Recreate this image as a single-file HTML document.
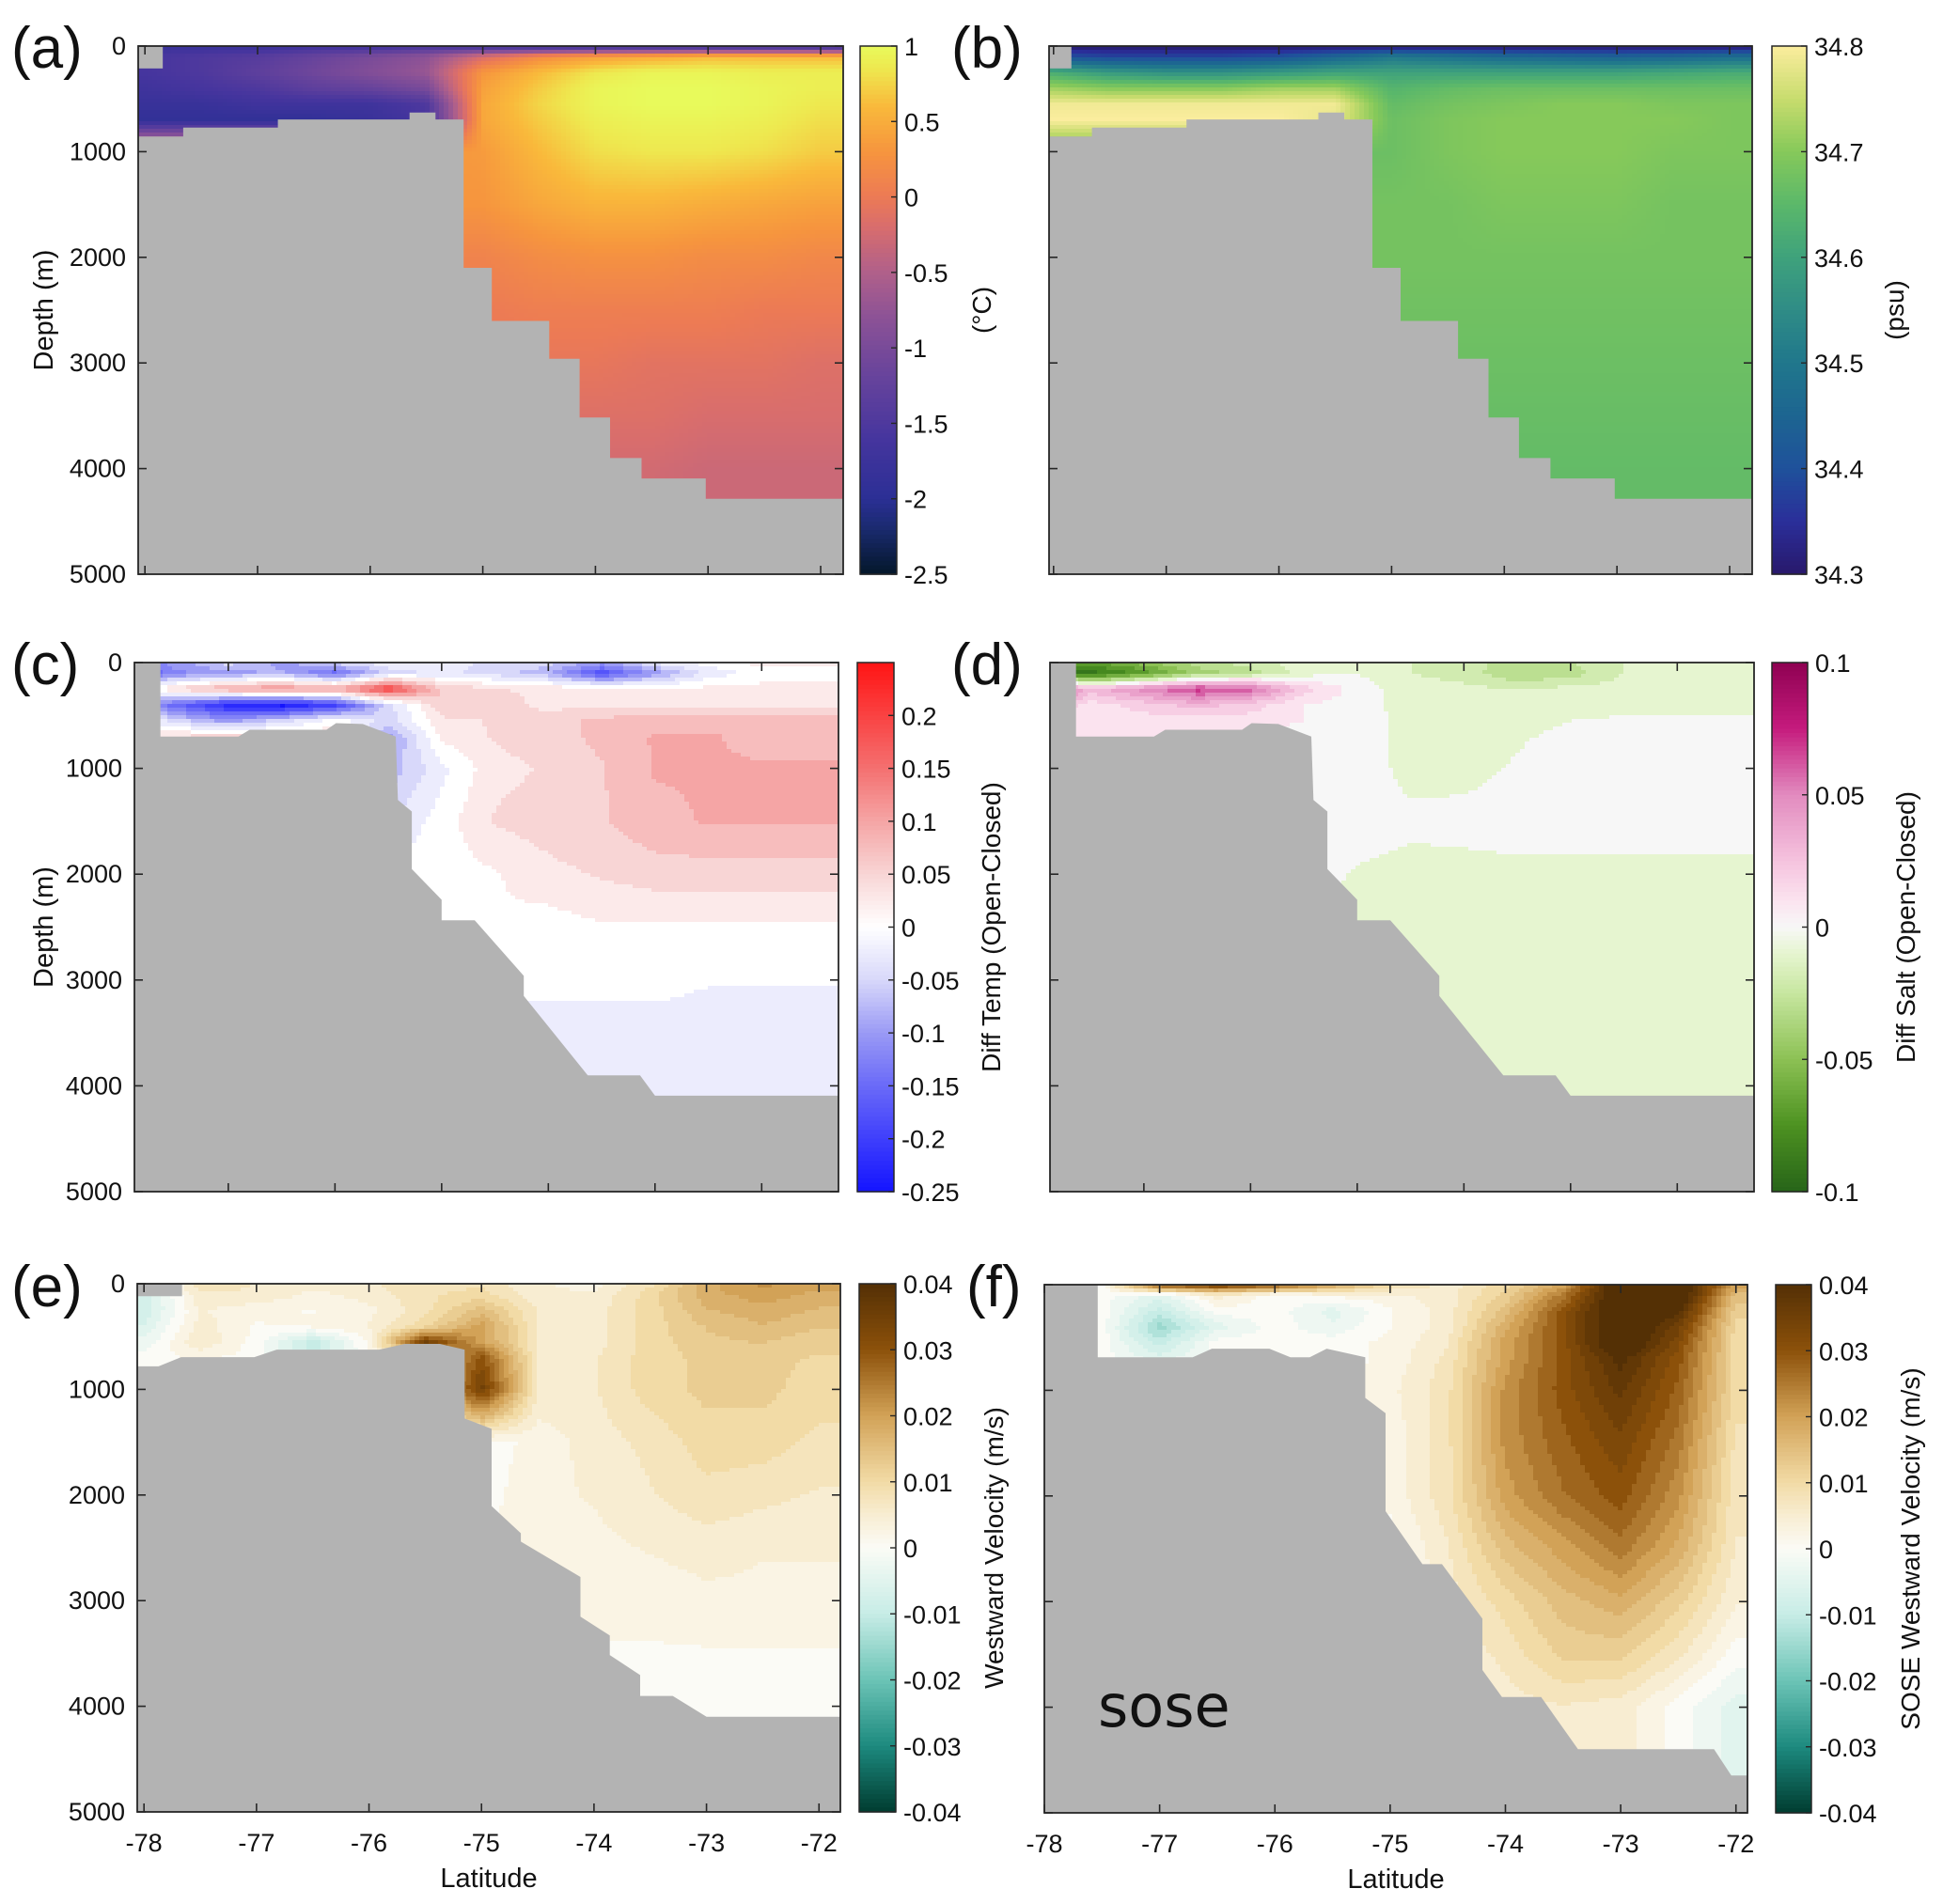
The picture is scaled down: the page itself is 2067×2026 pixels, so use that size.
<!DOCTYPE html>
<html><head><meta charset="utf-8"><title>Ocean sections</title>
<style>
html,body{margin:0;padding:0;background:#fff;}
svg{display:block;font-family:"Liberation Sans",Arial,sans-serif;}
</style></head>
<body>
<svg id="fig" width="2067" height="2026" xmlns="http://www.w3.org/2000/svg"></svg>
<script>
// ---------------- DATA ----------------
const latNodes = [-78,-77.5,-77,-76.5,-76,-75.5,-75,-74.5,-74,-73.5,-73,-72.5,-72];
const depthNodes = [0,100,250,400,550,700,1000,1500,2000,2500,3000,3500,4000,5000];

const tempGrid = [
[-1.8,-1.8,-1.8,-1.7,-1.7,-1.6,-1.7,-1.8,-1.8,-1.8,-1.8,-1.8,-1.8],
[-1.6,-1.5,-1.4,-1.2,-1.0,-0.8,-0.2,0.2,0.4,0.5,0.6,0.6,0.6],
[-1.6,-1.5,-1.3,-1.1,-0.9,-0.7,0.3,0.6,0.85,0.95,0.95,0.9,0.9],
[-1.7,-1.6,-1.5,-1.3,-1.2,-1.0,0.4,0.7,0.95,1.0,1.0,0.95,0.9],
[-1.8,-1.8,-1.7,-1.7,-1.7,-1.5,0.45,0.75,0.95,1.0,1.0,0.95,0.85],
[-1.9,-1.9,-1.9,-1.9,-1.8,-1.6,0.45,0.7,0.9,0.95,0.95,0.9,0.8],
[0.3,0.3,0.3,0.3,0.3,0.3,0.35,0.6,0.8,0.85,0.85,0.8,0.7],
[0.3,0.3,0.3,0.3,0.3,0.3,0.3,0.45,0.55,0.55,0.5,0.45,0.4],
[0.1,0.1,0.1,0.1,0.1,0.1,0.1,0.2,0.25,0.25,0.2,0.2,0.15],
[0,0,0,0,0,0,0,0.05,0.05,0.05,0.05,0,0],
[-0.05,-0.05,-0.05,-0.05,-0.05,-0.05,-0.05,-0.05,-0.05,-0.1,-0.1,-0.1,-0.15],
[-0.15,-0.15,-0.15,-0.15,-0.15,-0.15,-0.15,-0.15,-0.15,-0.15,-0.2,-0.2,-0.2],
[-0.25,-0.25,-0.25,-0.25,-0.25,-0.25,-0.25,-0.25,-0.25,-0.25,-0.3,-0.3,-0.3],
[-0.3,-0.3,-0.3,-0.3,-0.3,-0.3,-0.3,-0.3,-0.3,-0.3,-0.3,-0.3,-0.3]];

const saltGrid = [
[34.3,34.3,34.3,34.3,34.3,34.3,34.3,34.3,34.3,34.3,34.3,34.3,34.3],
[34.40,34.38,34.38,34.38,34.40,34.45,34.50,34.48,34.46,34.45,34.44,34.45,34.47],
[34.62,34.58,34.56,34.56,34.58,34.60,34.60,34.60,34.60,34.60,34.60,34.61,34.62],
[34.72,34.70,34.70,34.70,34.72,34.72,34.64,34.66,34.67,34.67,34.67,34.67,34.67],
[34.79,34.79,34.79,34.79,34.79,34.79,34.66,34.68,34.69,34.70,34.70,34.69,34.69],
[34.80,34.80,34.80,34.80,34.80,34.78,34.67,34.69,34.70,34.70,34.70,34.70,34.69],
[34.67,34.67,34.67,34.67,34.67,34.67,34.67,34.69,34.70,34.70,34.70,34.69,34.69],
[34.68,34.68,34.68,34.68,34.68,34.68,34.68,34.68,34.69,34.69,34.69,34.68,34.68],
[34.68,34.68,34.68,34.68,34.68,34.68,34.68,34.68,34.68,34.68,34.68,34.68,34.68],
[34.675,34.675,34.675,34.675,34.675,34.675,34.675,34.675,34.675,34.675,34.675,34.675,34.675],
[34.67,34.67,34.67,34.67,34.67,34.67,34.67,34.67,34.67,34.67,34.67,34.67,34.67],
[34.665,34.665,34.665,34.665,34.665,34.665,34.665,34.665,34.665,34.665,34.665,34.665,34.665],
[34.66,34.66,34.66,34.66,34.66,34.66,34.66,34.66,34.66,34.66,34.66,34.66,34.66],
[34.66,34.66,34.66,34.66,34.66,34.66,34.66,34.66,34.66,34.66,34.66,34.66,34.66]];

const diffTempGrid = [
[-0.15,-0.1,-0.05,-0.1,-0.05,-0.02,-0.02,-0.05,-0.05,-0.1,-0.03,0.0,0.02],
[-0.2,-0.12,-0.1,-0.08,-0.15,-0.05,-0.03,-0.05,-0.08,-0.18,-0.1,-0.03,0],
[-0.05,0.05,0.1,0.12,0.1,0.2,0.06,0.04,0.03,0.03,0.02,0.02,0.02],
[-0.1,-0.15,-0.23,-0.25,-0.2,-0.05,0.06,0.05,0.03,0.03,0.03,0.03,0.03],
[0.02,-0.05,-0.1,-0.05,0.0,-0.05,0.03,0.04,0.05,0.07,0.08,0.08,0.08],
[0.04,0.04,0.05,0.04,0.04,-0.1,0.02,0.04,0.05,0.07,0.09,0.09,0.08],
[0,0,0,0,0,-0.08,-0.02,0.03,0.04,0.06,0.09,0.09,0.09],
[0,0,0,0,0,-0.04,0.0,0.04,0.05,0.06,0.08,0.09,0.09],
[0,0,0,0,0,0,0,0.01,0.03,0.04,0.05,0.05,0.05],
[0,0,0,0,0,0,0,0.01,0.0,0.01,0.01,0.01,0.01],
[0,0,0,0,0,0,0,0,0,0,0,-0.01,-0.01],
[-0.03,-0.03,-0.03,-0.03,-0.03,-0.03,-0.03,-0.03,-0.03,-0.03,-0.03,-0.03,-0.03],
[-0.03,-0.03,-0.03,-0.03,-0.03,-0.03,-0.03,-0.03,-0.03,-0.03,-0.03,-0.03,-0.03],
[-0.03,-0.03,-0.03,-0.03,-0.03,-0.03,-0.03,-0.03,-0.03,-0.03,-0.03,-0.03,-0.03]];

const diffSaltGrid = [
[-0.07,-0.07,-0.05,-0.03,-0.02,-0.01,-0.01,-0.015,-0.02,-0.03,-0.025,-0.015,-0.01],
[-0.08,-0.09,-0.07,-0.04,-0.03,-0.01,-0.005,-0.015,-0.02,-0.035,-0.03,-0.015,-0.01],
[0.09,0.03,0.05,0.07,0.06,0.02,0.0,-0.01,-0.012,-0.015,-0.012,-0.01,-0.01],
[0.03,0.01,0.02,0.03,0.02,0.005,0.0,-0.01,-0.01,-0.01,-0.01,-0.01,-0.01],
[0.01,0.01,0.01,0.01,0.01,0.005,0.0,-0.008,-0.01,-0.008,-0.005,-0.003,-0.002],
[0.005,0.005,0.005,0.005,0.005,0,0,-0.008,-0.01,-0.006,-0.003,0,0],
[0,0,0,0,0,0,0,-0.008,-0.008,-0.004,0,0,0],
[0,0,0,0,0,0,0,-0.003,-0.002,0,0,0,0],
[0,0,0,0,0,0,-0.006,-0.008,-0.008,-0.008,-0.008,-0.008,-0.008],
[-0.008,-0.008,-0.008,-0.008,-0.008,-0.008,-0.008,-0.008,-0.008,-0.008,-0.008,-0.008,-0.008],
[-0.008,-0.008,-0.008,-0.008,-0.008,-0.008,-0.008,-0.008,-0.008,-0.008,-0.008,-0.008,-0.008],
[-0.008,-0.008,-0.008,-0.008,-0.008,-0.008,-0.008,-0.008,-0.008,-0.008,-0.008,-0.008,-0.008],
[-0.008,-0.008,-0.008,-0.008,-0.008,-0.008,-0.008,-0.008,-0.008,-0.008,-0.01,-0.012,-0.015],
[-0.008,-0.008,-0.008,-0.008,-0.008,-0.008,-0.008,-0.008,-0.008,-0.008,-0.01,-0.012,-0.015]];

const velGrid = [
[-0.004,0.008,0.006,0.005,0.006,0.008,0.008,0.004,0.003,0.008,0.018,0.022,0.02],
[-0.008,0.006,0.006,0.003,0.005,0.008,0.01,0.004,0.004,0.01,0.018,0.02,0.018],
[-0.008,0.004,0.002,0.001,0.003,0.008,0.015,0.006,0.005,0.01,0.016,0.018,0.016],
[-0.006,0.005,0.001,0.002,0.004,0.01,0.02,0.006,0.005,0.01,0.014,0.016,0.014],
[-0.003,0.006,0.0,-0.01,0.002,0.035,0.02,0.006,0.005,0.01,0.013,0.014,0.012],
[0,0.002,0,-0.01,0,0.01,0.03,0.006,0.006,0.01,0.012,0.012,0.011],
[0,0,0,0,0,0.01,0.035,0.006,0.006,0.01,0.012,0.012,0.01],
[0,0,0,0,0,0,0,0.002,0.005,0.007,0.01,0.01,0.008],
[0,0,0,0,0,0,0,0.003,0.004,0.006,0.008,0.007,0.006],
[0.002,0.002,0.002,0.002,0.002,0.002,0.002,0.002,0.003,0.004,0.005,0.004,0.004],
[0.002,0.002,0.002,0.002,0.002,0.002,0.002,0.002,0.002,0.002,0.003,0.003,0.003],
[0.001,0.001,0.001,0.001,0.001,0.001,0.001,0.001,0.001,0.001,0.001,0.001,0.001],
[0.001,0.001,0.001,0.001,0.001,0.001,0.001,0.001,0.001,0.001,0.001,0,-0.001],
[0.001,0.001,0.001,0.001,0.001,0.001,0.001,0.001,0.001,0.001,0.001,0,-0.001]];

const soseGrid = [
[0,0,0.03,0.035,0.03,0.02,0.01,0.005,0.01,0.02,0.045,0.045,0.02],
[0,0,-0.005,0.005,0.0,0.002,0.003,0.005,0.012,0.025,0.045,0.045,0.015],
[0,0,-0.01,0.0,0.0,-0.005,0.001,0.005,0.015,0.03,0.045,0.04,0.012],
[0,0,-0.015,-0.005,0.0,-0.003,0.001,0.005,0.018,0.03,0.045,0.035,0.01],
[0,0,-0.01,0,0,0,0.002,0.006,0.02,0.03,0.045,0.032,0.01],
[0,0,-0.005,0,0,0,0.002,0.007,0.02,0.03,0.04,0.03,0.01],
[0,0,0,0,0,0,0.003,0.008,0.022,0.03,0.037,0.028,0.01],
[0,0,0,0,0,0,0.002,0.008,0.022,0.028,0.033,0.025,0.008],
[0,0,0,0,0,0,0.002,0.008,0.02,0.026,0.03,0.022,0.007],
[0,0,0,0,0,0,0,0.006,0.015,0.02,0.025,0.018,0.006],
[0,0,0,0,0,0,0,0.005,0.01,0.015,0.018,0.012,0.004],
[0,0,0,0,0,0,0,0.004,0.007,0.012,0.012,0.007,0.0],
[0,0,0,0,0,0,0,0.003,0.005,0.006,0.005,0.0,-0.005],
[0,0,0,0,0,0,0,0.003,0.005,0.006,0.005,0.0,-0.005]];

const stepLatEdges = [-78.06,-77.66,-76.82,-75.65,-75.42,-75.17,-74.92,-74.41,-74.14,-73.87,-73.59,-73.02,-71.7];
const stepDepths = [857,772,695,629,695,2100,2602,2961,3517,3900,4093,4286];
const diffBathyLat = [-77.645,-76.905,-76.80,-76.08,-75.99,-75.74,-75.43,-75.41,-75.28,-75.28,-75.0,-75.0,-74.69,-74.23,-74.23,-73.63,-73.14,-73.0,-71.2];
const diffBathyDepth = [700,700,635,635,573,581,700,1299,1408,1952,2242,2435,2435,2961,3150,3901,3901,4093,4093];
const velBathyLat = [-78.1,-77.87,-77.67,-77.02,-76.82,-75.91,-75.68,-75.37,-75.15,-75.15,-74.91,-74.91,-74.65,-74.65,-74.12,-74.12,-73.86,-73.86,-73.59,-73.59,-73.30,-73.0,-71.7];
const velBathyDepth = [782,782,695,695,624,624,569,569,624,1276,1374,2105,2362,2441,2776,3152,3329,3515,3705,3902,3902,4100,4100];
const soseBathyLat = [-77.545,-76.713,-76.547,-76.048,-75.865,-75.698,-75.55,-75.216,-75.216,-75.04,-75.04,-74.72,-74.55,-74.2,-74.2,-74.03,-73.69,-73.37,-72.19,-72.04,-71.8];
const soseBathyDepth = [688,688,606,606,688,688,606,688,1072,1216,2144,2646,2646,3162,3648,3904,3904,4398,4398,4646,4646];

const depthTicks = [0,1000,2000,3000,4000,5000];
const depthTickLabels = ["0","1000","2000","3000","4000","5000"];
const latTicks = [-78,-77,-76,-75,-74,-73,-72];
const latTickLabels = ["-78","-77","-76","-75","-74","-73","-72"];
const cbTempTicks = [1,0.5,0,-0.5,-1,-1.5,-2,-2.5];
const cbTempLabels = ["1","0.5","0","-0.5","-1","-1.5","-2","-2.5"];
const cbSaltTicks = [34.8,34.7,34.6,34.5,34.4,34.3];
const cbSaltLabels = ["34.8","34.7","34.6","34.5","34.4","34.3"];
const cbDTTicks = [0.2,0.15,0.1,0.05,0,-0.05,-0.1,-0.15,-0.2,-0.25];
const cbDTLabels = ["0.2","0.15","0.1","0.05","0","-0.05","-0.1","-0.15","-0.2","-0.25"];
const cbDSTicks = [0.1,0.05,0,-0.05,-0.1];
const cbDSLabels = ["0.1","0.05","0","-0.05","-0.1"];
const cbVelTicks = [0.04,0.03,0.02,0.01,0,-0.01,-0.02,-0.03,-0.04];
const cbVelLabels = ["0.04","0.03","0.02","0.01","0","-0.01","-0.02","-0.03","-0.04"];

// ---------------- COLORMAPS ----------------
const cmThermal = [[-2.5,"#04172a"],[-2.2,"#1a2a6e"],[-2.0,"#2b2f95"],[-1.6,"#46359e"],[-1.2,"#66439c"],[-0.8,"#8c5296"],[-0.5,"#b0608a"],[-0.2,"#d86d6d"],[0,"#ec7a55"],[0.3,"#f6953e"],[0.6,"#f9b93b"],[0.85,"#eee84f"],[1,"#e8fa5b"]];
const cmHaline = [[34.3,"#29186b"],[34.35,"#2a2f9a"],[34.4,"#1f519b"],[34.45,"#1d6591"],[34.5,"#20778c"],[34.55,"#2f8c86"],[34.6,"#3fa27c"],[34.65,"#5bb86a"],[34.7,"#86c95a"],[34.75,"#c8dc6e"],[34.8,"#fbed9e"]];
const cmBWR = [[-0.25,"#1414ff"],[-0.15,"#6a6af8"],[-0.1,"#9a9af5"],[-0.05,"#d8d8fa"],[0,"#ffffff"],[0.05,"#f8d5d5"],[0.1,"#f5a5a5"],[0.15,"#f47070"],[0.25,"#ff1414"]];
const cmPiYG = [[-0.1,"#276419"],[-0.075,"#4d9221"],[-0.05,"#8cc154"],[-0.025,"#c7e6a0"],[-0.01,"#e6f5d0"],[0,"#f7f7f7"],[0.01,"#fbe3ef"],[0.025,"#f5c3de"],[0.05,"#e28bbf"],[0.075,"#c51b7d"],[0.1,"#8e0152"]];
const cmBrBG = [[-0.04,"#003c30"],[-0.03,"#1d8a7f"],[-0.02,"#6cc4b6"],[-0.01,"#c7ece6"],[0,"#fbfbf6"],[0.005,"#f8edd2"],[0.01,"#f2dba6"],[0.02,"#d2a257"],[0.03,"#8c510a"],[0.04,"#543005"]];

function hex2rgb(h){return [parseInt(h.substr(1,2),16),parseInt(h.substr(3,2),16),parseInt(h.substr(5,2),16)];}
function cmap(stops,v){
  if(v<=stops[0][0]) return stops[0][1];
  if(v>=stops[stops.length-1][0]) return stops[stops.length-1][1];
  for(let i=0;i<stops.length-1;i++){
    const a=stops[i],b=stops[i+1];
    if(v>=a[0]&&v<=b[0]){
      const t=(v-a[0])/(b[0]-a[0]);const ca=hex2rgb(a[1]),cb=hex2rgb(b[1]);
      return "rgb("+ca.map((c,k)=>Math.round(c+(cb[k]-c)*t)).join(",")+")";
    }
  }
  return stops[0][1];
}
function locate(nodes,v){
  if(v<=nodes[0]) return [0,0];
  const n=nodes.length;
  if(v>=nodes[n-1]) return [n-2,1];
  for(let i=0;i<n-1;i++){ if(v>=nodes[i]&&v<=nodes[i+1]) return [i,(v-nodes[i])/(nodes[i+1]-nodes[i])]; }
  return [0,0];
}
function sample(grid,lat,dep){
  const [i,t]=locate(latNodes,lat);const [j,u]=locate(depthNodes,dep);
  const a=grid[j][i],b=grid[j][i+1],c=grid[j+1][i],d=grid[j+1][i+1];
  return a*(1-t)*(1-u)+b*t*(1-u)+c*(1-t)*u+d*t*u;
}

// ---------------- DRAW ----------------
const NS="http://www.w3.org/2000/svg";
const svg=document.getElementById('fig');
const defs=document.createElementNS(NS,'defs');svg.appendChild(defs);
function el(tag,attrs,parent){const e=document.createElementNS(NS,tag);for(const k in attrs)e.setAttribute(k,attrs[k]);(parent||svg).appendChild(e);return e;}
function txt(s,attrs,parent){const e=el('text',attrs,parent);e.textContent=s;return e;}
let clipId=0;

function drawPanel(p){
  const g=el('g',{});
  
  
  const xs=lat=>p.x0+(lat-p.lat0)/(p.lat1-p.lat0)*(p.x1-p.x0);
  const ys=d=>p.y0+d/5000*(p.y1-p.y0);
  const latOf=x=>p.lat0+(x-p.x0)/(p.x1-p.x0)*(p.lat1-p.lat0);
  const depOf=y=>(y-p.y0)/(p.y1-p.y0)*5000;
  const cid='clip'+(clipId++);
  const cp=el('clipPath',{id:cid},defs);
  el('rect',{x:p.x0,y:p.y0,width:p.x1-p.x0,height:p.y1-p.y0},cp);
  const plot=el('g',{'clip-path':'url(#'+cid+')'},g);
  // field
  const fg=el('g',{'shape-rendering':'crispEdges'},plot);
  
  
  const dx=5,dy=4;
  for(let y=p.y0;y<p.y1;y+=dy){
    let runStart=p.x0,runCol=null;
    for(let x=p.x0;x<p.x1;x+=dx){
      let v=sample(p.grid,latOf(x+dx/2),depOf(y+dy/2));
      if(p.step) v=Math.round(v/p.step)*p.step;
      const col=cmap(p.cm,v);
      if(col!==runCol){
        if(runCol!==null) el('rect',{x:runStart,y:y,width:x-runStart+0.6,height:dy+0.6,fill:runCol},fg);
        runStart=x;runCol=col;
      }
    }
    if(runCol!==null) el('rect',{x:runStart,y:y,width:p.x1-runStart+1,height:dy+0.6,fill:runCol},fg);
  }
  // bathymetry
  const bg=el('g',{},plot);
  
  
  let pts=[];
  if(p.stepEdges){
    pts.push([xs(p.stepEdges[0]),ys(5000)]);
    for(let i=0;i<p.stepDepths.length;i++){pts.push([xs(p.stepEdges[i]),ys(p.stepDepths[i])]);pts.push([xs(p.stepEdges[i+1]),ys(p.stepDepths[i])]);}
    pts.push([xs(p.stepEdges[p.stepEdges.length-1]),ys(5000)]);
  } else {
    pts.push([xs(p.bLat[0]),ys(5000)]);
    for(let i=0;i<p.bLat.length;i++) pts.push([xs(p.bLat[i]),ys(p.bDep[i])]);
    pts.push([xs(p.bLat[p.bLat.length-1]),ys(5000)]);
  }
  el('polygon',{points:pts.map(q=>q.map(v=>v.toFixed(1)).join(',')).join(' '),fill:'#b3b3b3'},bg);
  if(p.leftBlock){
    const lb=p.leftBlock;
    el('rect',{x:p.x0-2,y:ys(lb[1])-2,width:xs(lb[0])-p.x0+3,height:ys(lb[2])-ys(lb[1])+2,fill:'#b3b3b3'},bg);
  }
  // frame & ticks
  const ax=el('g',{},g);
  
  
  el('rect',{x:p.x0,y:p.y0,width:p.x1-p.x0,height:p.y1-p.y0,fill:'none',stroke:'#262626','stroke-width':1.8},ax);
  const TL=9;
  depthTicks.forEach((d,i)=>{
    const y=ys(d);
    el('line',{x1:p.x0,y1:y,x2:p.x0+TL,y2:y,stroke:'#262626','stroke-width':1.6},ax);
    el('line',{x1:p.x1,y1:y,x2:p.x1-TL,y2:y,stroke:'#262626','stroke-width':1.6},ax);
    if(p.yLabels){
      const t=txt(depthTickLabels[i],{x:p.x0-13,y:y+9,'font-size':27,'text-anchor':'end',fill:'#111'},ax);
      
      
    }
  });
  latTicks.forEach((lat,i)=>{
    const x=xs(lat);
    if(x<p.x0-1||x>p.x1+1) return;
    el('line',{x1:x,y1:p.y1,x2:x,y2:p.y1-TL,stroke:'#262626','stroke-width':1.6},ax);
    el('line',{x1:x,y1:p.y0,x2:x,y2:p.y0+TL,stroke:'#262626','stroke-width':1.6},ax);
    if(p.xLabels){
      const t=txt(latTickLabels[i],{x:x,y:p.y1+42,'font-size':27,'text-anchor':'middle',fill:'#111'},ax);
      
      
    }
  });
  if(p.xLabels){
    const t=txt('Latitude',{x:(p.x0+p.x1)/2,y:p.y1+80,'font-size':29,'text-anchor':'middle',fill:'#111'},ax);
    
    
  }
  if(p.yTitle){
    const cy=(p.y0+p.y1)/2;
    const t=txt('Depth (m)',{x:56,y:cy,'font-size':29,'text-anchor':'middle',fill:'#111',transform:'rotate(-90 56 '+cy+')'},ax);
    
    
  }
  const lt=txt(p.letter,{x:p.lx,y:p.ly,'font-size':62,fill:'#111'},g);
  
  
  // colorbar
  const cg=el('g',{},g);
  
  
  const N=120;
  for(let k=0;k<N;k++){
    const v=p.cbMax-(k+0.5)/N*(p.cbMax-p.cbMin);
    el('rect',{x:p.cx0,y:p.y0+k*(p.y1-p.y0)/N,width:p.cx1-p.cx0,height:(p.y1-p.y0)/N+0.7,fill:cmap(p.cm,v)},cg);
  }
  el('rect',{x:p.cx0,y:p.y0,width:p.cx1-p.cx0,height:p.y1-p.y0,fill:'none',stroke:'#262626','stroke-width':1.5},cg);
  p.cbTicks.forEach((v,i)=>{
    const y=p.y0+(p.cbMax-v)/(p.cbMax-p.cbMin)*(p.y1-p.y0);
    el('line',{x1:p.cx1,y1:y,x2:p.cx1-6,y2:y,stroke:'#262626','stroke-width':1.4},cg);
    const t=txt(p.cbLabels[i],{x:p.cx1+8,y:y+10,'font-size':27,fill:'#111'},cg);
    
    
  });
  const cy=(p.y0+p.y1)/2;
  const ct=txt(p.cbTitle,{x:p.tx,y:cy,'font-size':28,'text-anchor':'middle',fill:'#111',transform:'rotate(-90 '+p.tx+' '+cy+')'},cg);
  
  
  return {g,xs,ys};
}

drawPanel({name:'panel-a-temperature',letter:'(a)',lx:12,ly:72,x0:147,x1:897,y0:49,y1:611,lat0:-78.06,lat1:-71.8,
  grid:tempGrid,cm:cmThermal,step:0,stepEdges:stepLatEdges,stepDepths:stepDepths,leftBlock:[-77.85,0,212],
  yLabels:true,yTitle:true,xLabels:false,cx0:915,cx1:954,cbMin:-2.5,cbMax:1,cbTicks:cbTempTicks,cbLabels:cbTempLabels,cbTitle:'(°C)',tx:1054});
drawPanel({name:'panel-b-salinity',letter:'(b)',lx:1012,ly:72,x0:1116,x1:1864,y0:49,y1:611,lat0:-78.04,lat1:-71.8,
  grid:saltGrid,cm:cmHaline,step:0,stepEdges:stepLatEdges,stepDepths:stepDepths,leftBlock:[-77.85,0,212],
  yLabels:false,yTitle:false,xLabels:false,cx0:1885,cx1:1922,cbMin:34.3,cbMax:34.8,cbTicks:cbSaltTicks,cbLabels:cbSaltLabels,cbTitle:'(psu)',tx:2025});
drawPanel({name:'panel-c-diff-temp',letter:'(c)',lx:12,ly:728,x0:143,x1:892,y0:705,y1:1268,lat0:-77.88,lat1:-71.28,
  grid:diffTempGrid,cm:cmBWR,step:0.025,bLat:diffBathyLat,bDep:diffBathyDepth,leftBlock:[-77.645,0,5000],
  yLabels:true,yTitle:true,xLabels:false,cx0:912,cx1:951,cbMin:-0.25,cbMax:0.25,cbTicks:cbDTTicks,cbLabels:cbDTLabels,cbTitle:'Diff Temp (Open-Closed)',tx:1064});
drawPanel({name:'panel-d-diff-salt',letter:'(d)',lx:1012,ly:728,x0:1117,x1:1866,y0:705,y1:1268,lat0:-77.88,lat1:-71.28,
  grid:diffSaltGrid,cm:cmPiYG,step:0.01,bLat:diffBathyLat,bDep:diffBathyDepth,leftBlock:[-77.645,0,5000],
  yLabels:false,yTitle:false,xLabels:false,cx0:1885,cx1:1923,cbMin:-0.1,cbMax:0.1,cbTicks:cbDSTicks,cbLabels:cbDSLabels,cbTitle:'Diff Salt (Open-Closed)',tx:2037});
drawPanel({name:'panel-e-velocity',letter:'(e)',lx:12,ly:1390,x0:146,x1:894,y0:1366,y1:1928,lat0:-78.06,lat1:-71.81,
  grid:velGrid,cm:cmBrBG,step:0.0025,bLat:velBathyLat,bDep:velBathyDepth,leftBlock:[-77.67,0,118],
  yLabels:true,yTitle:false,xLabels:true,cx0:914,cx1:953,cbMin:-0.04,cbMax:0.04,cbTicks:cbVelTicks,cbLabels:cbVelLabels,cbTitle:'Westward Velocity (m/s)',tx:1067});
drawPanel({name:'panel-f-sose-velocity',letter:'(f)',lx:1028,ly:1390,x0:1111,x1:1859,y0:1367,y1:1929,lat0:-78.0,lat1:-71.9,
  grid:soseGrid,cm:cmBrBG,step:0.0025,bLat:soseBathyLat,bDep:soseBathyDepth,leftBlock:[-77.545,0,5000],
  yLabels:false,yTitle:false,xLabels:true,cx0:1889,cx1:1927,cbMin:-0.04,cbMax:0.04,cbTicks:cbVelTicks,cbLabels:cbVelLabels,cbTitle:'SOSE Westward Velocity (m/s)',tx:2042});
const sose=txt('sose',{x:1168,y:1837,'font-size':62,fill:'#111','font-family':'"DejaVu Sans",sans-serif'});


</script>
</body></html>
